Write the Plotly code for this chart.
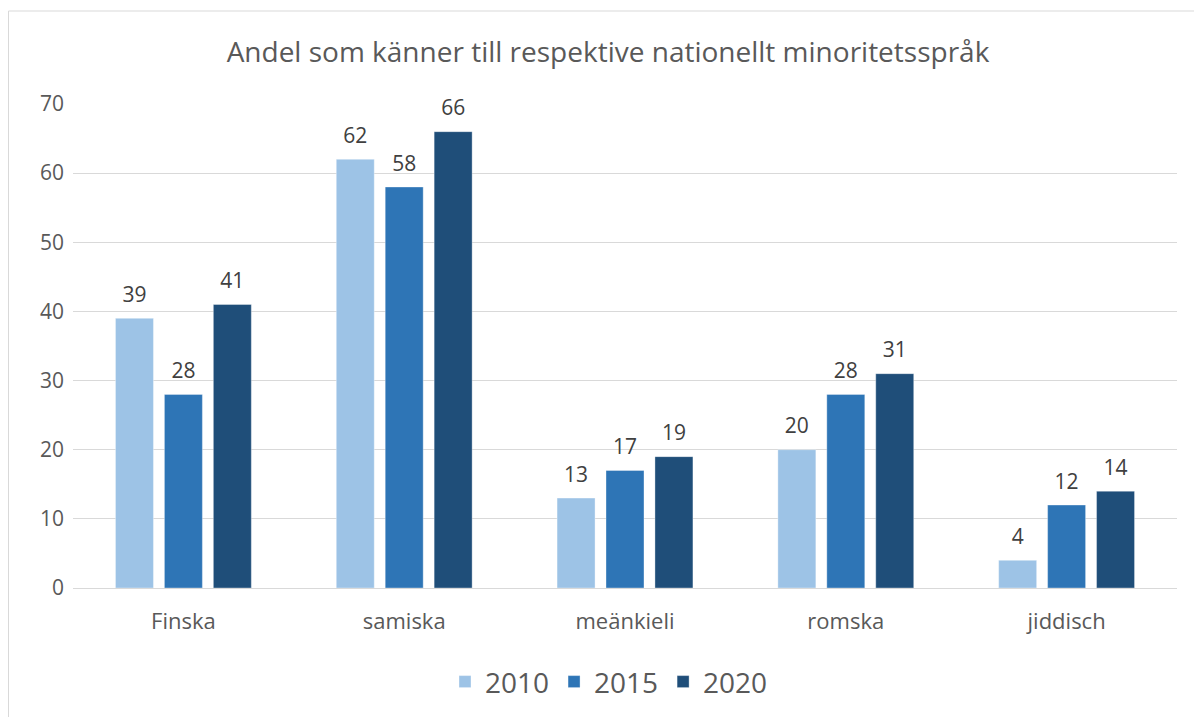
import plotly.graph_objects as go

categories = ["Finska", "samiska", "meänkieli", "romska", "jiddisch"]
series_names = ["2010", "2015", "2020"]
v2010 = [39, 62, 13, 20, 4]
v2015 = [28, 58, 17, 28, 12]
v2020 = [41, 66, 19, 31, 14]
colors = ["#9DC3E6", "#2E75B6", "#1F4E79"]
title = "Andel som känner till respektive nationellt minoritetsspråk"

FONT = "Open Sans"
fig = go.Figure()
for name, vals, col in zip(series_names, [v2010, v2015, v2020], colors):
    fig.add_trace(go.Bar(
        x=categories, y=vals, name=name, offsetgroup=name, alignmentgroup="g",
        marker=dict(color=col, line=dict(color="rgba(255,255,255,0.35)", width=1)),
    ))
for name, vals in zip(series_names, [v2010, v2015, v2020]):
    fig.add_trace(go.Scatter(
        x=categories, y=vals, name=name, offsetgroup=name, alignmentgroup="g",
        mode="markers+text", text=[str(v) for v in vals], textposition="top center",
        marker=dict(size=16, color="rgba(0,0,0,0)"),
        textfont=dict(size=21, color="#404040", family=FONT),
        showlegend=False, cliponaxis=False, hoverinfo="skip",
    ))

W, H = 1200, 720
L, R, T, B = 73, 23, 104, 132
pw, ph = W - L - R, H - T - B
fig.update_layout(
    width=W, height=H,
    margin=dict(l=L, r=R, t=T, b=B, autoexpand=False),
    paper_bgcolor="white", plot_bgcolor="white",
    font=dict(family=FONT, color="#595959"),
    title=dict(text=title, xref="paper", x=(608 - L) / pw, xanchor="center",
               y=1 - 52 / H, yanchor="middle",
               font=dict(size=28, color="#595959")),
    barmode="group", bargap=0.335, bargroupgap=0.224,
    scattermode="group", scattergap=0.335,
    legend=dict(orientation="h", x=(609 - L) / pw, xanchor="center", y=-0.194, yanchor="middle",
                font=dict(size=28, color="#595959"), itemwidth=30, traceorder="normal"),
    showlegend=True,
    xaxis=dict(showgrid=False, showline=True, linecolor="#d9d9d9", linewidth=1,
               ticks="", tickfont=dict(size=22, color="#595959"), ticklabelstandoff=14),
    yaxis=dict(range=[0, 70], dtick=10, showgrid=True, gridcolor="#d9d9d9", gridwidth=1,
               zeroline=False, showline=False, ticks="",
               tickfont=dict(size=21, color="#595959"), ticklabelstandoff=8),
)

x0 = (8.5 - L) / pw
y1 = (H - B - 11) / ph
fig.add_shape(type="rect", xref="paper", yref="paper", x0=x0, x1=1.5, y0=-1, y1=y1,
              line=dict(color="#d9d9d9", width=1), fillcolor="rgba(0,0,0,0)", layer="below")

post = ("document.body.style.margin='0';"
        "document.body.style.overflow='hidden';"
        "document.documentElement.style.overflow='hidden';")
fig.write_html("out.html", post_script=post, config={"displayModeBar": False})
